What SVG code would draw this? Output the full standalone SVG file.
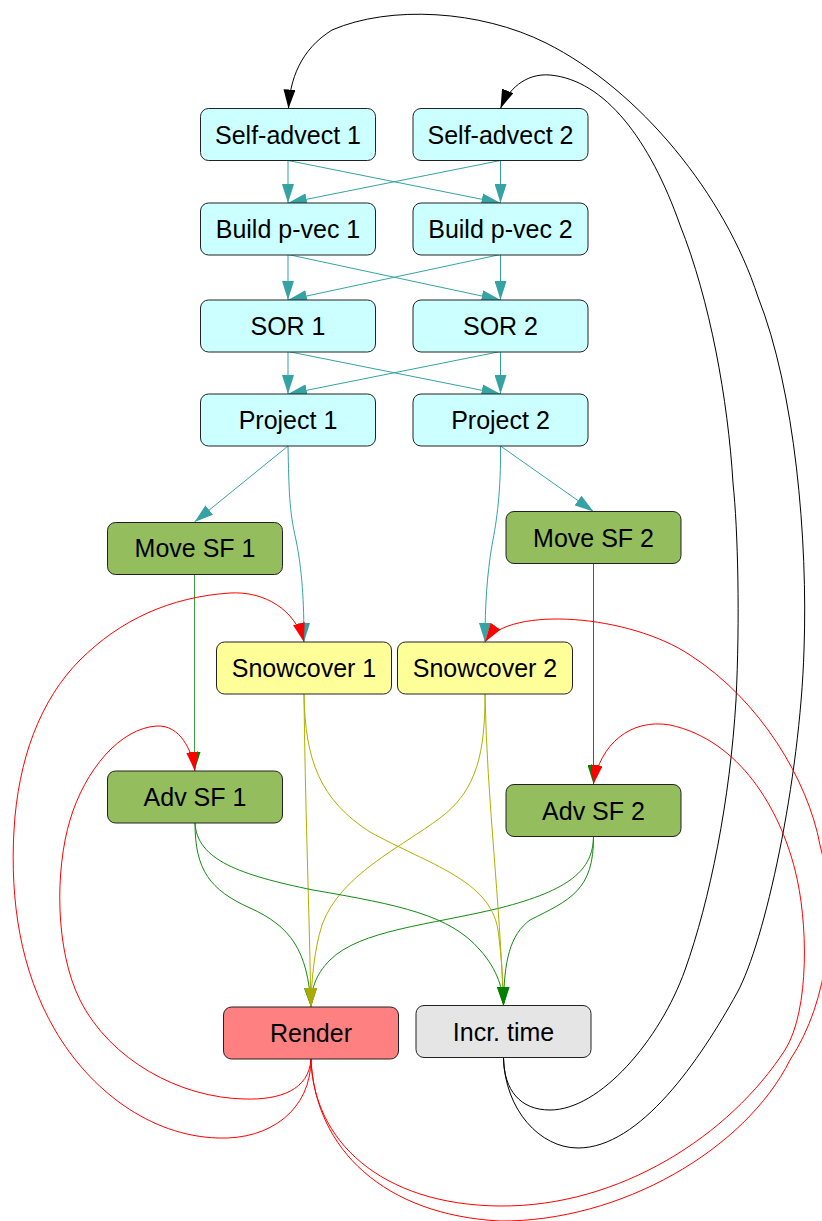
<svg xmlns="http://www.w3.org/2000/svg" width="822" height="1221" viewBox="0 0 822 1221">
<style>
.n rect{stroke:#222;stroke-width:1}
.n text{font-family:"Liberation Sans",Arial,sans-serif;font-size:25px;fill:#000;text-anchor:middle}
.cy rect{fill:#ccffff}
.gr rect{fill:#94bd5e}
.ye rect{fill:#ffff99}
.e path{fill:none;stroke-width:1}
.t{stroke:#35a3a3;marker-end:url(#at)}
.r{stroke:#ff0000;marker-end:url(#ar)}
.k{stroke:#000;marker-end:url(#ak)}
.y{stroke:#b0b000;marker-end:url(#ay)}
.g{stroke:#138a13;marker-end:url(#ag)}
</style>
<defs>
<marker id="at" viewBox="0 0 19 12" refX="19" refY="6" markerWidth="19" markerHeight="12" markerUnits="userSpaceOnUse" orient="auto"><path d="M0,0 L19,6 L0,12 z" fill="#35a3a3"/></marker>
<marker id="ar" viewBox="0 0 19 12" refX="19" refY="6" markerWidth="19" markerHeight="12" markerUnits="userSpaceOnUse" orient="auto"><path d="M0,0 L19,6 L0,12 z" fill="#ff0000"/></marker>
<marker id="ak" viewBox="0 0 19 12" refX="19" refY="6" markerWidth="19" markerHeight="12" markerUnits="userSpaceOnUse" orient="auto"><path d="M0,0 L19,6 L0,12 z" fill="#000"/></marker>
<marker id="ay" viewBox="0 0 19 12" refX="19" refY="6" markerWidth="19" markerHeight="12" markerUnits="userSpaceOnUse" orient="auto"><path d="M0,0 L19,6 L0,12 z" fill="#aaaa00"/></marker>
<marker id="ag" viewBox="0 0 19 12" refX="19" refY="6" markerWidth="19" markerHeight="12" markerUnits="userSpaceOnUse" orient="auto"><path d="M0,0 L19,6 L0,12 z" fill="#008000"/></marker>
</defs>
<rect width="822" height="1221" fill="#fff"/>
<g id="edges" class="e">
<path class="t" d="M288,160.5 L288,203"/>
<path class="t" d="M288,160.5 L500.5,203"/>
<path class="t" d="M500.5,160.5 L288,203"/>
<path class="t" d="M500.5,160.5 L500.5,203"/>
<path class="t" d="M288,254.5 L288,300"/>
<path class="t" d="M288,254.5 L500.5,300"/>
<path class="t" d="M500.5,254.5 L288,300"/>
<path class="t" d="M500.5,254.5 L500.5,300"/>
<path class="t" d="M288,351.5 L288,394"/>
<path class="t" d="M288,351.5 L500.5,394"/>
<path class="t" d="M500.5,351.5 L288,394"/>
<path class="t" d="M500.5,351.5 L500.5,394"/>
<path class="t" d="M288,446 L194.5,522"/>
<path class="t" d="M500.5,446 L593.5,511.5"/>
<path class="t" d="M288,446 C289,490 289,510 296,540 C302,570 304,600 304,642"/>
<path class="t" d="M500.5,446 C501,490 497,520 492,545 C487,575 485,605 485,642"/>
<path class="g" d="M194.5,574 L194.5,771" style="stroke:#3c9f3c"/>
<path class="g" d="M593.5,563.5 L593.5,784"/>
<path class="k" d="M503.5,1058 C505,1110 540,1148 578,1148 C640,1148 700,1060 737,993 C765,942 800,780 804,650 C808,540 795,390 758,297 C725,195 640,90 546,43 C480,10 390,5 332,30 C300,50 290,80 288.5,108.5"/>
<path class="k" d="M503.5,1058 C504,1090 520,1110 550,1110 C600,1110 660,1040 685,970 C710,900 730,800 736,700 C740,620 738,530 733,483 C728,400 710,300 680,225 C650,140 605,80 550,75 C525,73 508,90 500.5,108.5"/>
<path class="r" d="M311,1059 C311,1110 270,1140 218,1138 C150,1136 90,1090 55,1030 C20,970 10,900 14,830 C18,760 40,700 80,660 C120,620 170,597 230,593 C265,591 295,610 304,642"/>
<path class="r" d="M311,1059 C309,1090 280,1100 245,1099 C180,1098 110,1060 80,1000 C55,950 55,870 70,820 C85,770 120,728 157,726 C180,725 192,750 195,771"/>
<path class="r" d="M311,1059 C313,1140 380,1205 500,1206 C620,1207 730,1135 785,1050 C810,1010 808,920 795,870 C780,810 740,740 670,725 C630,718 600,745 593.5,784"/>
<path class="r" d="M311,1059 C315,1150 385,1215 500,1221 C620,1222 745,1150 790,1060 C830,1000 838,910 820,845 C808,780 760,700 690,655 C630,615 510,605 485,642"/>
<path class="g" d="M195,823 C195,870 210,890 250,908 C290,926 308,950 311,1007"/>
<path class="g" d="M593.5,836.5 C593,870 570,890 500,908 C430,925 360,930 330,960 C315,975 311,990 311,1007"/>
<path class="y" d="M304,694 C305,800 309,900 311,1007"/>
<path class="y" d="M485,694 C485,750 478,790 440,818 C400,848 340,875 322,925 C314,950 311,985 311,1007"/>
<path class="y" d="M304,694 C305,760 320,800 370,832 C430,865 490,880 498,930 C502,960 503,985 503.5,1005.7"/>
<path class="y" d="M485,694 C487,800 500,900 503.5,1005.7"/>
<path class="g" d="M195,823 C197,860 240,875 313,890 C400,905 450,915 480,950 C498,970 503,990 503.5,1005.7"/>
<path class="g" d="M593.5,836.5 C594,890 570,900 530,920 C510,935 504,960 503.5,1005.7"/>
</g>
<g id="selfadvect1" class="n cy"><rect x="200.5" y="108.5" width="175" height="52" rx="8"/><text x="288" y="143.5">Self-advect 1</text></g>
<g id="selfadvect2" class="n cy"><rect x="413" y="108.5" width="175" height="52" rx="8"/><text x="500.5" y="143.5">Self-advect 2</text></g>
<g id="buildpvec1" class="n cy"><rect x="200.5" y="203" width="175" height="52" rx="8"/><text x="288" y="238">Build p-vec 1</text></g>
<g id="buildpvec2" class="n cy"><rect x="413" y="203" width="175" height="52" rx="8"/><text x="500.5" y="238">Build p-vec 2</text></g>
<g id="sor1" class="n cy"><rect x="200.5" y="300" width="175" height="52" rx="8"/><text x="288" y="335">SOR 1</text></g>
<g id="sor2" class="n cy"><rect x="413" y="300" width="175" height="52" rx="8"/><text x="500.5" y="335">SOR 2</text></g>
<g id="project1" class="n cy"><rect x="200.5" y="394" width="175" height="52" rx="8"/><text x="288" y="429">Project 1</text></g>
<g id="project2" class="n cy"><rect x="413" y="394" width="175" height="52" rx="8"/><text x="500.5" y="429">Project 2</text></g>
<g id="movesf1" class="n gr"><rect x="107.5" y="522.5" width="175" height="52" rx="8"/><text x="195" y="557">Move SF 1</text></g>
<g id="movesf2" class="n gr"><rect x="506" y="511.5" width="175" height="52" rx="8"/><text x="593.5" y="546.5">Move SF 2</text></g>
<g id="snowcover1" class="n ye"><rect x="216.5" y="642" width="175" height="52" rx="8"/><text x="304" y="677">Snowcover 1</text></g>
<g id="snowcover2" class="n ye"><rect x="397.5" y="642" width="175" height="52" rx="8"/><text x="485" y="677">Snowcover 2</text></g>
<g id="advsf1" class="n gr"><rect x="107.5" y="771" width="175" height="52" rx="8"/><text x="195" y="806">Adv SF 1</text></g>
<g id="advsf2" class="n gr"><rect x="506" y="784.5" width="175" height="52" rx="8"/><text x="593.5" y="819.5">Adv SF 2</text></g>
<g id="render" class="n"><rect x="223.5" y="1007" width="175" height="52" rx="8" fill="#ff8080"/><text x="311" y="1042">Render</text></g>
<g id="incrtime" class="n"><rect x="416" y="1005.5" width="175" height="52" rx="8" fill="#e5e5e5"/><text x="503.5" y="1040.5">Incr. time</text></g>
</svg>
